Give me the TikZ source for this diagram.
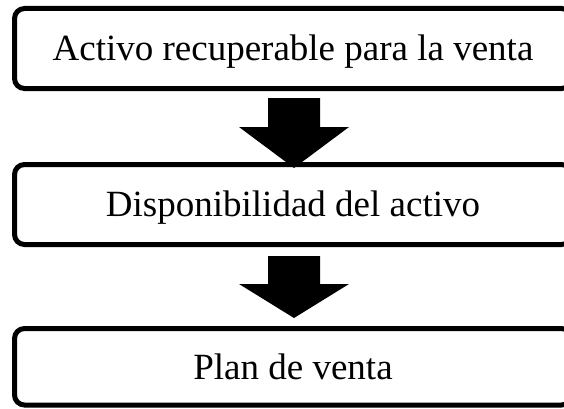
\documentclass[tikz,border=0pt]{standalone}
\usepackage{fontspec}
\setmainfont{Liberation Serif}
\newcommand{\tx}{\fontsize{37}{44}\selectfont}

\begin{document}
\begin{tikzpicture}[x=1pt,y=1pt,
   caja/.style={draw=black,fill=white,line width=5pt,rounded corners=10pt,
                minimum width=557pt,inner sep=0pt,outer sep=0pt,
                text height=24.5pt,text depth=0pt,font=\tx}]
   \useasboundingbox (0,0) rectangle (564,408);
   \clip (0,0) rectangle (564,408);
   \fill[white] (0,0) rectangle (564,408);
   \node[caja,minimum height=80pt]   (b1) at (293,359.5)  {Activo recuperable para la venta};
   \node[caja,minimum height=80pt]   (b2) at (293,203.5)  {Disponibilidad del activo};
   \node[caja,minimum height=76.5pt] (b3) at (293,41.25)  {Plan de venta};
   \coordinate (a1) at (294,310);
   \coordinate (h1) at (294,240);
   \coordinate (a2) at (294,152);
   \coordinate (h2) at (294, 90);
   \fill[black] (a1) ++(-26,0) -- ++(52,0) -- ++(0,-29) -- ++(29,0)
    -- (h1) -- ++(-55,41) -- ++(29,0) -- cycle;
   \fill[black] (a2) ++(-26,0) -- ++(52,0) -- ++(0,-28) -- ++(29,0)
    -- (h2) -- ++(-55,34) -- ++(29,0) -- cycle;
\end{tikzpicture}
\end{document}
